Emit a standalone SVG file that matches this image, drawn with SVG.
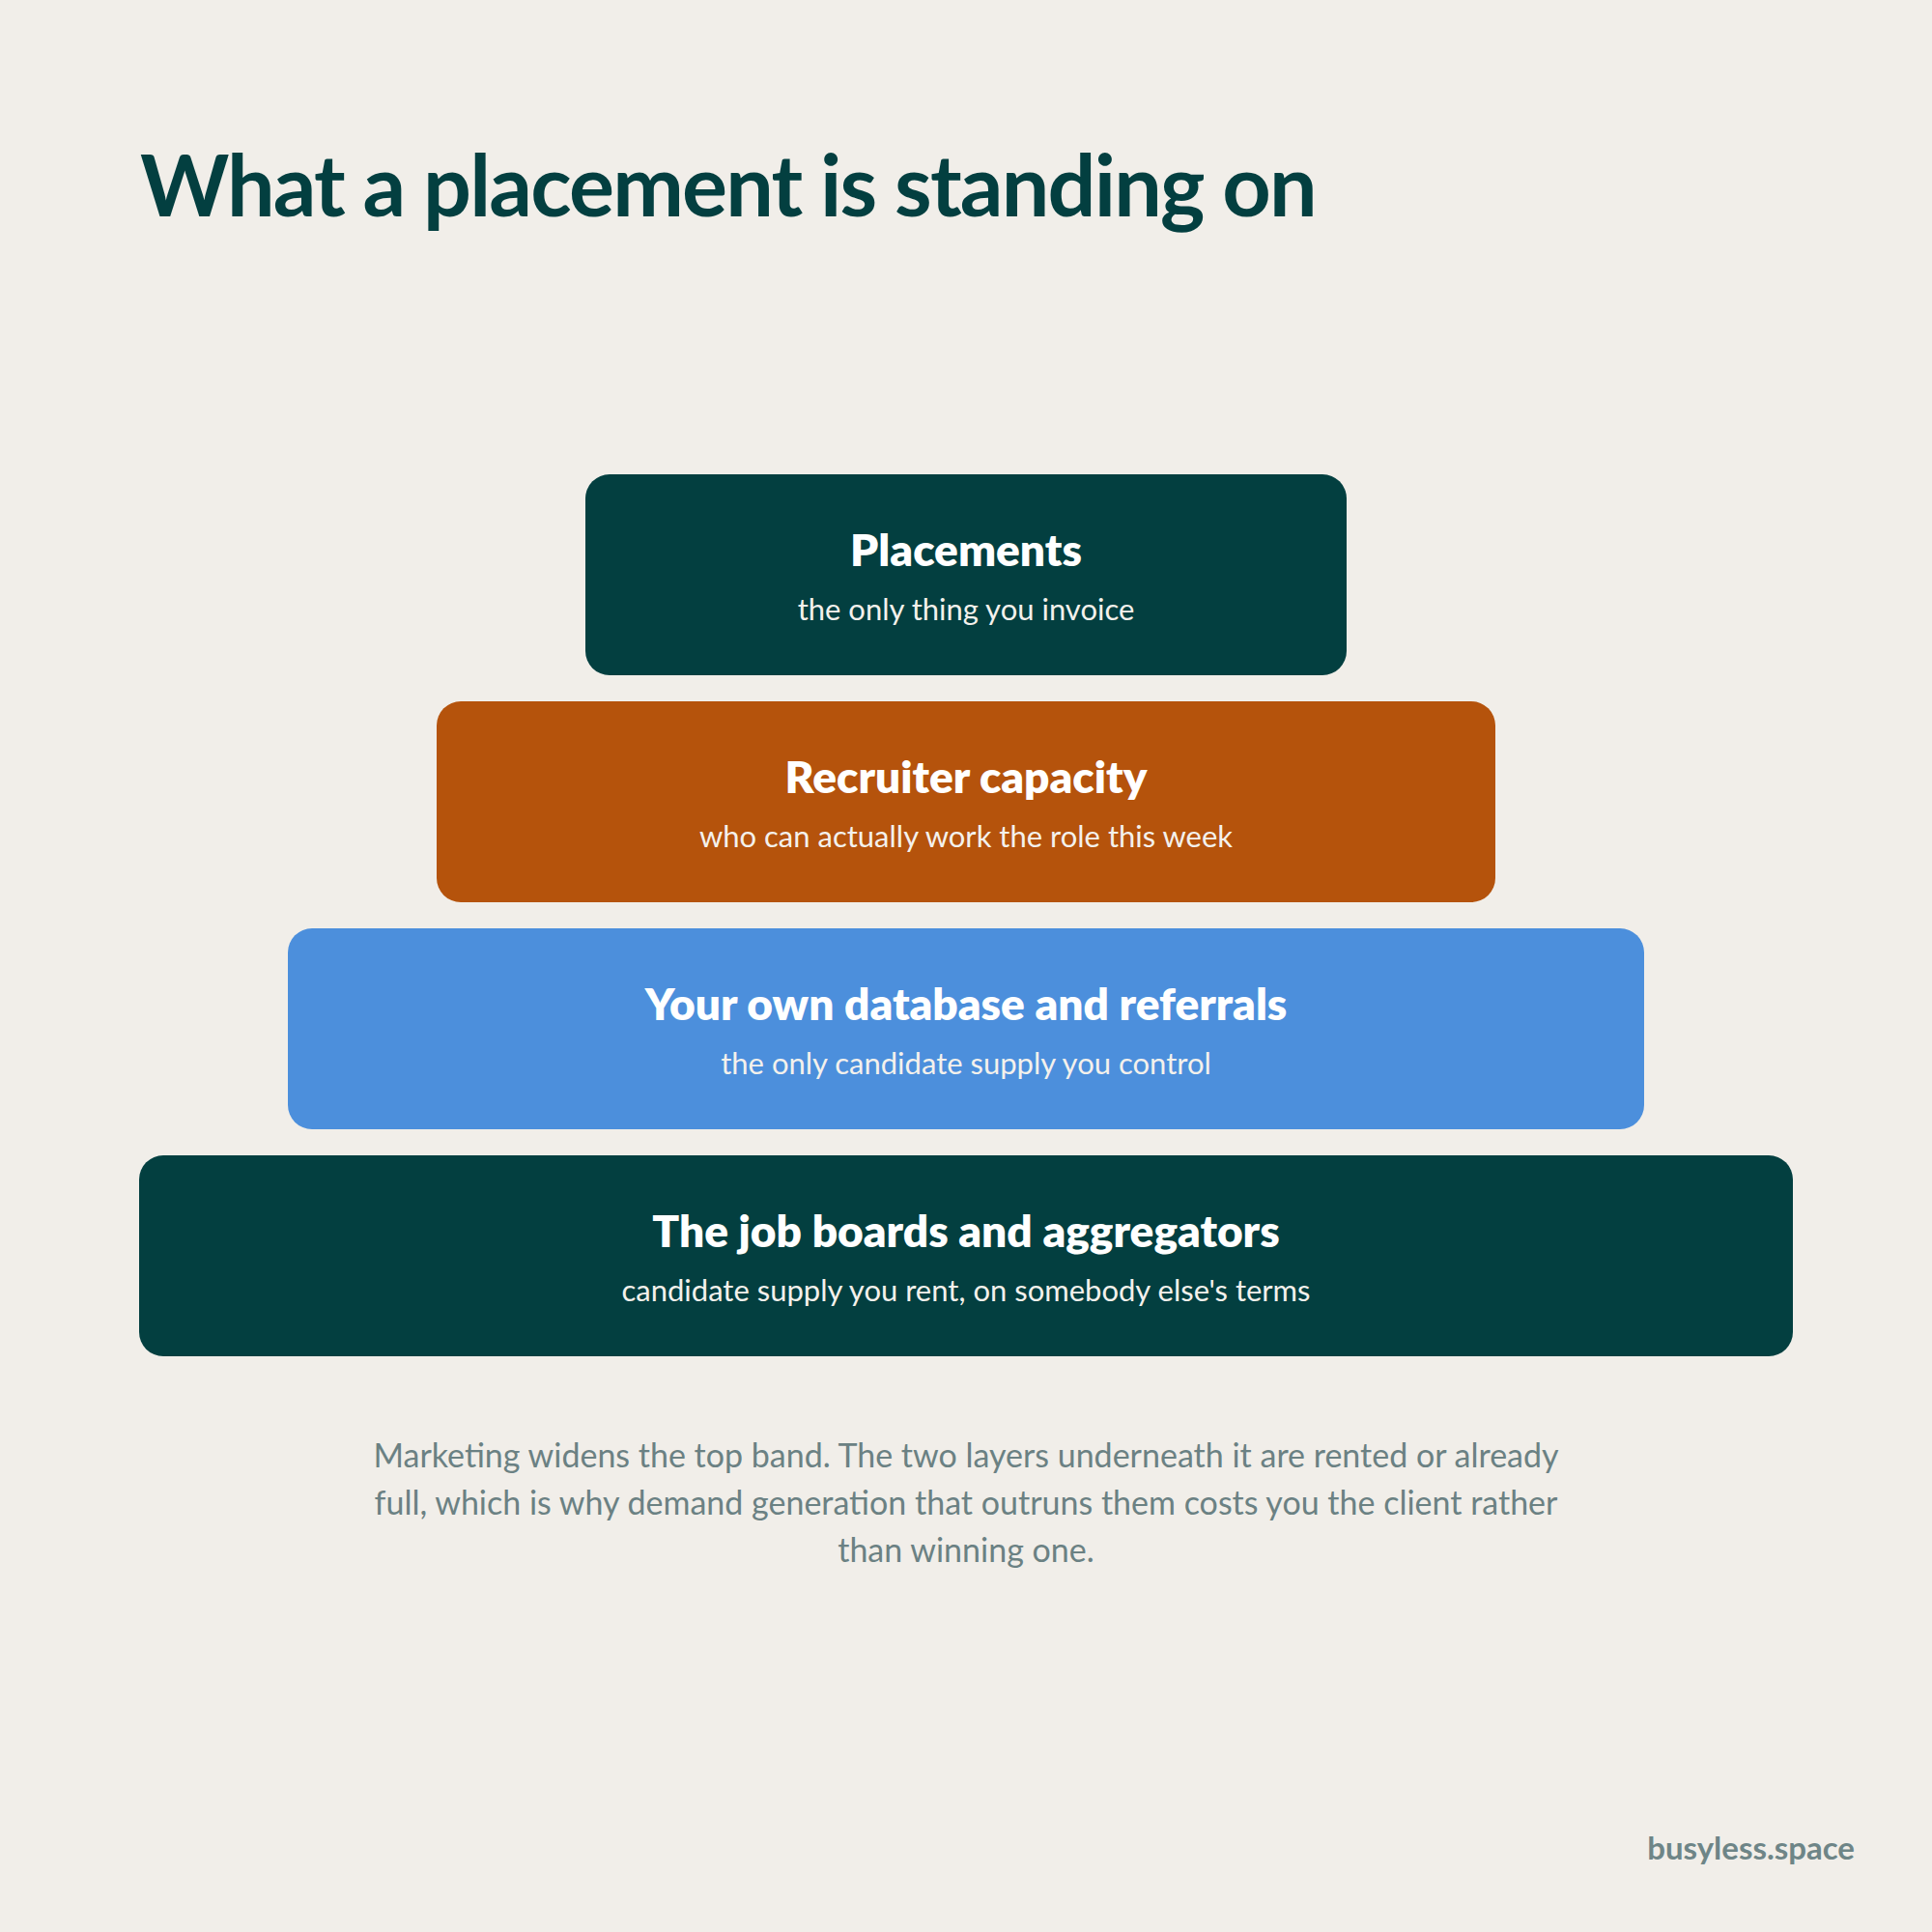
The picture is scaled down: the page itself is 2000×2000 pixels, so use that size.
<svg xmlns="http://www.w3.org/2000/svg" width="2000" height="2000" viewBox="0 0 2000 2000">
<style>
.title{font-family:Lato,"Liberation Sans",sans-serif;font-weight:700;font-size:88px;letter-spacing:-1.8px;fill:#033f40}
.h{font-family:Lato,"Liberation Sans",sans-serif;font-weight:800;font-size:46px;fill:#ffffff;text-anchor:middle}
.s{font-family:Lato,"Liberation Sans",sans-serif;font-weight:400;font-size:31px;fill:#f4f1ec;text-anchor:middle}
.body{font-family:Lato,"Liberation Sans",sans-serif;font-weight:400;font-size:34px;fill:#6b8183;text-anchor:middle}
.brand{font-family:Lato,"Liberation Sans",sans-serif;font-weight:700;font-size:33px;fill:#6e8587;text-anchor:end}
</style>
<rect x="0" y="0" width="2000" height="2000" fill="#f1eee9"/>
<text class="title" x="145" y="224">What a placement is standing on</text>
<g id="connectors"></g>
<g id="node-placements">
<rect x="606" y="491" width="788" height="208" rx="25" fill="#033f40"/>
<text class="h" x="1000" y="586">Placements</text>
<text class="s" x="1000" y="642">the only thing you invoice</text>
</g>
<g id="node-recruiter">
<rect x="452" y="726" width="1096" height="208" rx="25" fill="#b5530c"/>
<text class="h" x="1000" y="821">Recruiter capacity</text>
<text class="s" x="1000" y="877">who can actually work the role this week</text>
</g>
<g id="node-database">
<rect x="298" y="961" width="1404" height="208" rx="25" fill="#4c8fdc"/>
<text class="h" x="1000" y="1056">Your own database and referrals</text>
<text class="s" x="1000" y="1112">the only candidate supply you control</text>
</g>
<g id="node-jobboards">
<rect x="144" y="1196" width="1712" height="208" rx="25" fill="#033f40"/>
<text class="h" x="1000" y="1291">The job boards and aggregators</text>
<text class="s" x="1000" y="1347">candidate supply you rent, on somebody else's terms</text>
</g>
<g id="caption">
<text class="body" x="1000" y="1519">Marketing widens the top band. The two layers underneath it are rented or already</text>
<text class="body" x="1000" y="1568">full, which is why demand generation that outruns them costs you the client rather</text>
<text class="body" x="1000" y="1617">than winning one.</text>
</g>
<text class="brand" x="1920" y="1925">busyless.space</text>
</svg>
